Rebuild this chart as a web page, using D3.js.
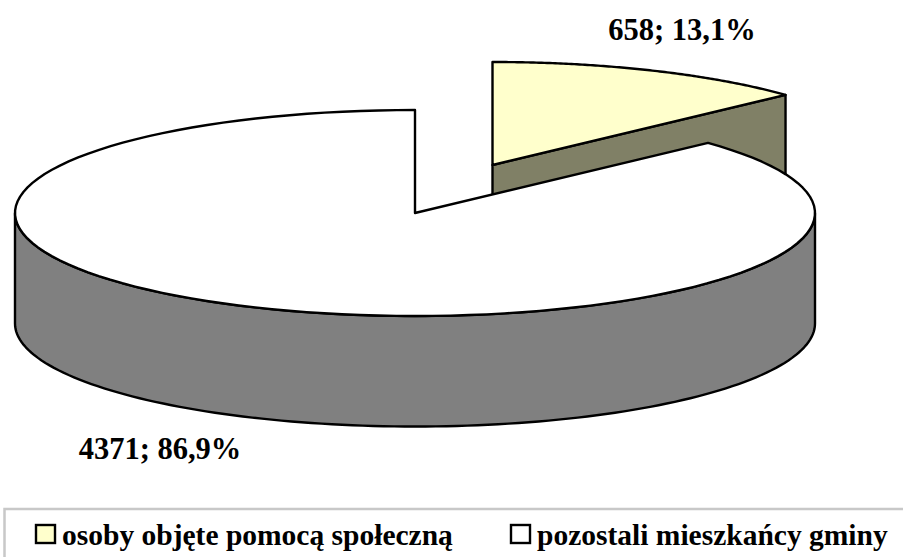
<!DOCTYPE html>
<html><head><meta charset="utf-8">
<script src="https://cdnjs.cloudflare.com/ajax/libs/d3/7.8.5/d3.min.js"></script>
<style>html,body{margin:0;padding:0;background:#fff;overflow:hidden}svg{display:block}text{font-family:"Liberation Serif",serif;font-weight:bold;fill:#000}</style>
</head><body><svg id="c" width="903" height="557"></svg>
<script>
const categories = ["osoby objęte pomocą społeczną", "pozostali mieszkańcy gminy"];
const values = [658, 4371];
const labels = ["658; 13,1%", "4371; 86,9%"];
const topColors = ["#ffffcc", "#ffffff"];
const wallColors = ["#808066", "#808080"];

const svg = d3.select("#c");
const RX = 400, RY = 103, DEPTH = 110.5;
const pie = d3.pie().sort(null).value(d => d)(values);
const centers = [[492.5, 165], [415, 213]];
const pt = (c, a, dy = 0) => [c[0] + RX * Math.sin(a), c[1] - RY * Math.cos(a) + dy];
const arcPts = (c, a0, a1, dy = 0) => d3.range(0, 121).map(i => pt(c, a0 + (a1 - a0) * i / 120, dy));
const line = d3.line();
const stroke = s => s.attr("stroke", "#000").attr("stroke-width", 2.4).attr("stroke-linejoin", "round");

// exploded small slice: cut-face wall, then top
{
  const p = pie[0], c = centers[0];
  const e = pt(c, p.endAngle);
  svg.append("path").attr("d", line([c, e, [e[0], e[1] + DEPTH], [c[0], c[1] + DEPTH]]) + "Z")
    .attr("fill", wallColors[0]).call(stroke);
  svg.append("path").attr("d", line([c, ...arcPts(c, p.startAngle, p.endAngle)]) + "Z")
    .attr("fill", topColors[0]).call(stroke);
}
// large slice: outer wall, then top
{
  const p = pie[1], c = centers[1];
  const a0 = Math.PI / 2, a1 = 3 * Math.PI / 2;
  const wall = [...arcPts(c, a0, a1), ...arcPts(c, a1, a0, DEPTH)];
  svg.append("path").attr("d", line(wall) + "Z").attr("fill", wallColors[1]).call(stroke);
  svg.append("path").attr("d", line([c, ...arcPts(c, p.startAngle, p.endAngle)]) + "Z")
    .attr("fill", topColors[1]).call(stroke);
}
// data labels
const labelPos = [[682, 40], [160, 459]];
svg.selectAll("text.lab").data(labels).join("text").attr("class", "lab")
  .attr("x", (d, i) => labelPos[i][0]).attr("y", (d, i) => labelPos[i][1])
  .attr("text-anchor", "middle").attr("font-size", 30.5).text(d => d);

// legend
svg.append("rect").attr("x", 4.5).attr("y", 509).attr("width", 920).attr("height", 70)
  .attr("fill", "#fff").attr("stroke", "#c8c8c8").attr("stroke-width", 2.5);
const legendX = [36, 511];
const g = svg.selectAll("g.leg").data(categories).join("g").attr("class", "leg")
  .attr("transform", (d, i) => `translate(${legendX[i]},0)`);
g.append("rect").attr("x", 0).attr("y", 525).attr("width", 19).attr("height", 18)
  .attr("fill", (d, i) => topColors[i]).attr("stroke", "#000").attr("stroke-width", 2.4);
g.append("text").attr("x", 26).attr("y", 545).attr("font-size", 29.5).text(d => d);
</script></body></html>
